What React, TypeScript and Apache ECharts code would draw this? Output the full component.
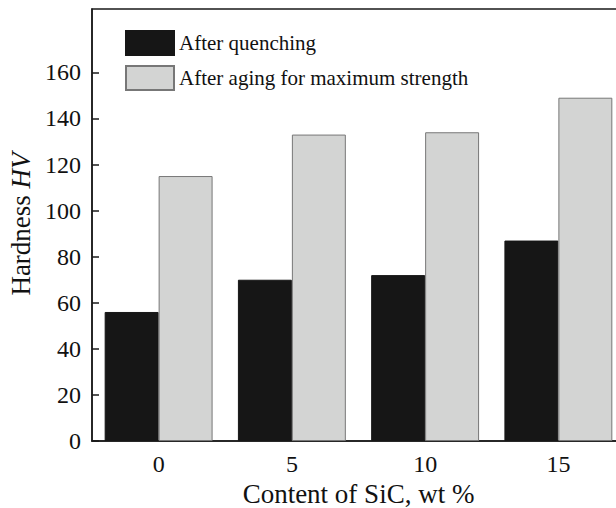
import React, { useEffect, useRef } from "react";
import * as echarts from "echarts";

const categories = ["0", "5", "10", "15"];
const afterQuenching = [56, 70, 72, 87];
const afterAging = [115, 133, 134, 149];
const yTicks = [0, 20, 40, 60, 80, 100, 120, 140, 160];
const seriesNames = ["After quenching", "After aging for maximum strength"];

const FONT = "'Liberation Serif', 'DejaVu Serif', serif";

export default function App() {
  const ref = useRef<HTMLDivElement>(null);
  useEffect(() => {
    if (!ref.current) return;
    const chart = echarts.init(ref.current, undefined, { renderer: "svg" });
    chart.setOption({
      animation: false,
      backgroundColor: "#ffffff",
      grid: {
        left: 92,
        top: 9,
        width: 533,
        height: 432,
        outerBoundsMode: "none",
        containLabel: false,
        show: true,
        borderColor: "#1a1a1a",
        borderWidth: 1.5,
        backgroundColor: "transparent",
      },
      legend: {
        orient: "vertical",
        left: 120,
        top: 25,
        itemWidth: 48,
        itemHeight: 24,
        itemGap: 9,
        icon: "rect",
        textStyle: { fontFamily: FONT, fontSize: 21, color: "#111" },
        data: seriesNames,
      },
      xAxis: {
        type: "category",
        data: categories,
        name: "Content of SiC, wt %",
        nameLocation: "middle",
        nameGap: 38,
        nameTextStyle: { fontFamily: FONT, fontSize: 27, color: "#111" },
        axisLine: { lineStyle: { color: "#1a1a1a", width: 1.5 } },
        axisTick: { show: false },
        axisLabel: { fontFamily: FONT, fontSize: 24, color: "#111", margin: 11 },
      },
      yAxis: {
        type: "value",
        min: 0,
        max: 187.5,
        interval: 20,
        splitLine: { show: false },
        axisLine: { show: true, lineStyle: { color: "#1a1a1a", width: 1.5 } },
        axisTick: { show: true, inside: true, length: 7, customValues: yTicks, lineStyle: { color: "#1a1a1a", width: 1.5 } },
        axisLabel: { fontFamily: FONT, fontSize: 24, color: "#111", margin: 11, customValues: yTicks },
      },
      graphic: [
        {
          type: "text",
          x: 21,
          y: 224,
          rotation: Math.PI / 2,
          style: {
            text: "Hardness {i|HV}",
            fontFamily: FONT,
            fontSize: 27,
            fill: "#111",
            align: "center",
            verticalAlign: "middle",
            rich: { i: { fontFamily: FONT, fontSize: 27, fontStyle: "italic", fill: "#111" } },
          },
        },
      ],
      series: [
        {
          name: seriesNames[0],
          type: "bar",
          data: afterQuenching,
          barGap: "0%",
          barCategoryGap: "19%",
          itemStyle: { color: "#161616", borderColor: "#161616", borderWidth: 1 },
        },
        {
          name: seriesNames[1],
          type: "bar",
          data: afterAging,
          barGap: "0%",
          barCategoryGap: "19%",
          itemStyle: { color: "#d3d4d3", borderColor: "#777", borderWidth: 1 },
        },
      ],
    });
    return () => chart.dispose();
  }, []);
  return <div ref={ref} style={{ position: "fixed", left: 0, top: 0, width: 616, height: 508 }} />;
}
